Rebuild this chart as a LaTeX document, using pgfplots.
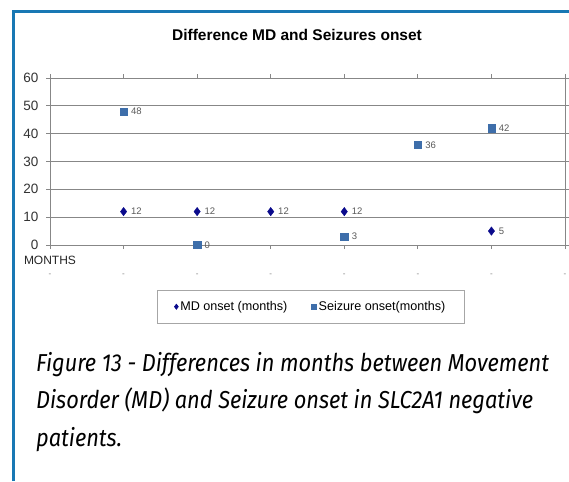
\documentclass[border=0pt]{standalone}
\usepackage{pgfplots}
\pgfplotsset{compat=1.18}
\usepackage{fontspec}
\setmainfont{Liberation Sans}
\newfontfamily\capfont[FakeStretch=0.89]{Fira Sans}
\definecolor{frameblue}{RGB}{24,120,180}
\definecolor{mdnavy}{RGB}{10,10,140}
\definecolor{szblue}{RGB}{62,110,170}
\definecolor{gridgray}{RGB}{135,135,135}
\definecolor{lblgray}{RGB}{90,90,90}
\pgfplotstableread{
x y
1 12
2 12
3 12
4 12
6 5
}\mdtable
\pgfplotstableread{
x y
1 48
2 0
4 3
5 36
6 42
}\sztable
\begin{document}
\begin{tikzpicture}
\path[use as bounding box] (0pt,0pt) rectangle (569pt,-481pt);
\fill[white] (0pt,0pt) rectangle (569pt,-481pt);
\draw[frameblue,line width=3pt] (13.5pt,-481pt) -- (13.5pt,-11.5pt) -- (569pt,-11.5pt);
\node[font=\bfseries\fontsize{15.5}{17}\selectfont] at (297pt,-35pt) {Difference MD and Seizures onset};
\begin{axis}[
  at={(50pt,-245pt)}, anchor=south west,
  scale only axis, width=515pt, height=167pt,
  xmin=0, xmax=7, ymin=0, ymax=60,
  xtick={0,1,2,3,4,5,6,7},
  xticklabels={-,-,-,-,-,-,-,-},
  xticklabel style={font=\fontsize{8}{8}\selectfont, text=gray, yshift=-22pt},
  ytick={0,10,20,30,40,50,60},
  yticklabel style={font=\fontsize{13.5}{14}\selectfont, text=black!80, xshift=-4pt},
  /pgf/number format/assume math mode=true,
  tick align=outside,
  major tick length=4pt,
  tick style={gridgray, line width=0.8pt},
  ymajorgrids,
  grid style={gridgray, line width=0.8pt},
  axis line style={gridgray, line width=0.8pt},
  xlabel={MONTHS},
  xlabel style={at={(axis description cs:0,0)}, anchor=center, yshift=-15pt, font=\fontsize{12}{12}\selectfont, text=black!85},
  clip=false,
  nodes near coords,
  every node near coord/.append style={anchor=west, xshift=4pt, font=\fontsize{9.5}{10}\selectfont, text=lblgray},
  legend columns=2,
  legend image code/.code={\draw[#1, mark size=2.6pt] plot coordinates {(0pt,0pt)};},
  legend style={at={(0.208,-0.27)}, anchor=north west, draw=gray!70, line width=0.6pt,
    font=\fontsize{12.6}{12.6}\selectfont, inner xsep=17pt, inner ysep=9pt,
    /tikz/every odd column/.append style={column sep=0pt},
    /tikz/every even column/.append style={column sep=22pt}},
  legend cell align=left,
]
\addplot[only marks, mark=diamond*, mark size=4.2pt, mark options={fill=mdnavy, draw=mdnavy}]
  table[x=x,y=y] {\mdtable};
\addlegendentry{MD onset (months)}
\addplot[only marks, mark=square*, mark size=3.6pt, mark options={fill=szblue, draw=szblue}]
  table[x=x,y=y] {\sztable};
\addlegendentry{Seizure onset(months)}
\end{axis}
\node[anchor=north west, align=left, font=\capfont\itshape\fontsize{24.5}{37.5}\selectfont, inner sep=0pt] at (36pt,-352pt)
 {Figure 13 - Differences in months between Movement\\Disorder (MD) and Seizure onset in SLC2A1 negative\\patients.};
\end{tikzpicture}
\end{document}
